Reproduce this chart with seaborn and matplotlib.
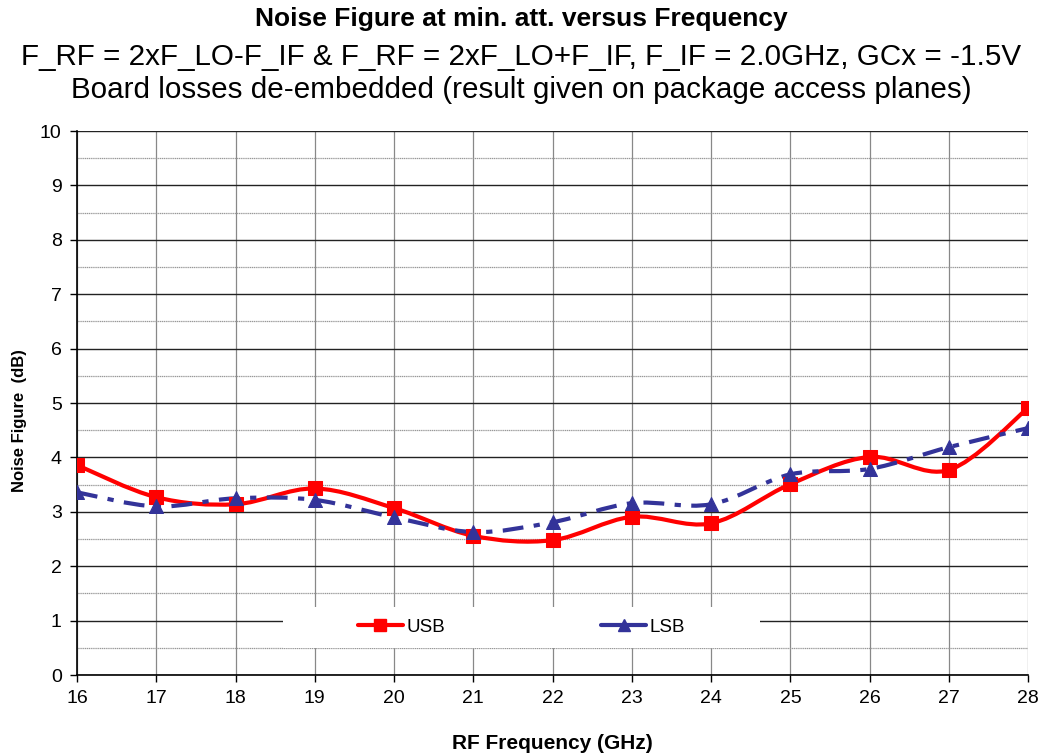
import matplotlib
matplotlib.use("Agg")
import matplotlib.pyplot as plt
import numpy as np
import pandas as pd
import seaborn as sns
from matplotlib.lines import Line2D
from matplotlib.patches import PathPatch, Rectangle
from matplotlib.path import Path
from matplotlib.ticker import MultipleLocator

freq = [16, 17, 18, 19, 20, 21, 22, 23, 24, 25, 26, 27, 28]
usb = [3.86, 3.27, 3.14, 3.43, 3.07, 2.56, 2.48, 2.91, 2.79, 3.51, 4.01, 3.77, 4.91]
lsb = [3.36, 3.10, 3.25, 3.22, 2.90, 2.63, 2.81, 3.16, 3.14, 3.69, 3.79, 4.19, 4.54]

title = "Noise Figure at min. att. versus Frequency"
subtitle = ("F_RF = 2xF_LO-F_IF & F_RF = 2xF_LO+F_IF, F_IF = 2.0GHz, GCx = -1.5V\n"
            "Board losses de-embedded (result given on package access planes)")

USB_COLOR = "#FF0000"
LSB_COLOR = "#333399"


def smooth_path(x, y):
    # Excel-style smoothed line: cubic Bezier segments through every point
    p = np.column_stack([x, y]).astype(float)
    ext = np.vstack([p[0], p, p[-1]])
    verts = [p[0]]
    codes = [Path.MOVETO]
    for i in range(len(p) - 1):
        p0, p1, p2, p3 = ext[i], ext[i + 1], ext[i + 2], ext[i + 3]
        verts += [p1 + (p2 - p0) / 6, p2 - (p3 - p1) / 6, p2]
        codes += [Path.CURVE4] * 3
    return Path(verts, codes)


df = pd.DataFrame({"freq": freq * 2, "nf": usb + lsb,
                   "band": ["USB"] * len(freq) + ["LSB"] * len(freq)})

sns.set_theme(style="white")
plt.rcParams["font.family"] = ["Liberation Sans", "DejaVu Sans"]
plt.rcParams["text.color"] = "black"
plt.rcParams["axes.labelcolor"] = "black"
plt.rcParams["xtick.color"] = "black"
plt.rcParams["ytick.color"] = "black"

fig = plt.figure(figsize=(10.43, 7.56), dpi=100)
ax = fig.add_axes([0.0738, 0.107, 0.912, 0.7197])

ax.add_patch(PathPatch(smooth_path(freq, usb), fill=False, edgecolor=USB_COLOR, lw=3, zorder=3))
ax.add_patch(PathPatch(smooth_path(freq, lsb), fill=False, edgecolor=LSB_COLOR, lw=3,
                       linestyle=(0, (5, 2.5, 1.5, 2.5)), zorder=3))

sns.scatterplot(data=df[df["band"] == "USB"], x="freq", y="nf", marker="s", s=90,
                color=USB_COLOR, edgecolor=USB_COLOR, ax=ax, zorder=4, legend=False)
sns.scatterplot(data=df[df["band"] == "LSB"], x="freq", y="nf", marker="^", s=100,
                color=LSB_COLOR, edgecolor=LSB_COLOR, ax=ax, zorder=4, legend=False)

ax.set_xlim(16, 28)
ax.set_ylim(0, 10)
ax.xaxis.set_major_locator(MultipleLocator(1))
ax.yaxis.set_major_locator(MultipleLocator(1))
ax.yaxis.set_minor_locator(MultipleLocator(0.5))
ax.grid(True, which="major", axis="y", color="#222222", lw=1.0)
ax.grid(True, which="minor", axis="y", color="#999999", lw=0.9, linestyle=(0, (1, 0.5)))
ax.grid(True, which="major", axis="x", color="#888888", lw=0.9)
ax.set_axisbelow(True)

for side in ["top", "right"]:
    ax.spines[side].set_visible(False)
for side in ["left", "bottom"]:
    ax.spines[side].set_color("black")
    ax.spines[side].set_linewidth(1.2)
ax.tick_params(axis="both", which="major", direction="out", length=5, width=1,
               color="black", labelsize=14, pad=6, bottom=True, left=True)

ax.set_xlabel("RF Frequency (GHz)", fontsize=15, fontweight="bold", labelpad=19)
ax.set_ylabel("Noise Figure  (dB)", fontsize=12, fontweight="bold")
ax.yaxis.set_label_coords(-0.053, 0.467)

fig.text(0.5, 0.975, title, ha="center", va="center", fontsize=19, fontweight="bold")
fig.text(0.5, 0.903, subtitle, ha="center", va="center", fontsize=21.3, linespacing=1.22)

# white legend band covering the grid
ax.add_patch(Rectangle((0.217, 0.05), 0.501, 0.075, transform=ax.transAxes,
                       facecolor="white", edgecolor="none", zorder=2.5))
handles = [
    Line2D([], [], color=USB_COLOR, lw=3, marker="s", markersize=9, label="USB"),
    Line2D([], [], color=LSB_COLOR, lw=3, marker="^", markersize=9, label="LSB"),
]
leg = ax.legend(handles=handles, loc="center", ncol=2,
                bbox_to_anchor=(0.4675, 0.0875), frameon=False,
                fontsize=13.5, handlelength=2.4, handletextpad=0.2, columnspacing=8.3)
leg.set_zorder(5)

fig.savefig("out.png", dpi=100)
